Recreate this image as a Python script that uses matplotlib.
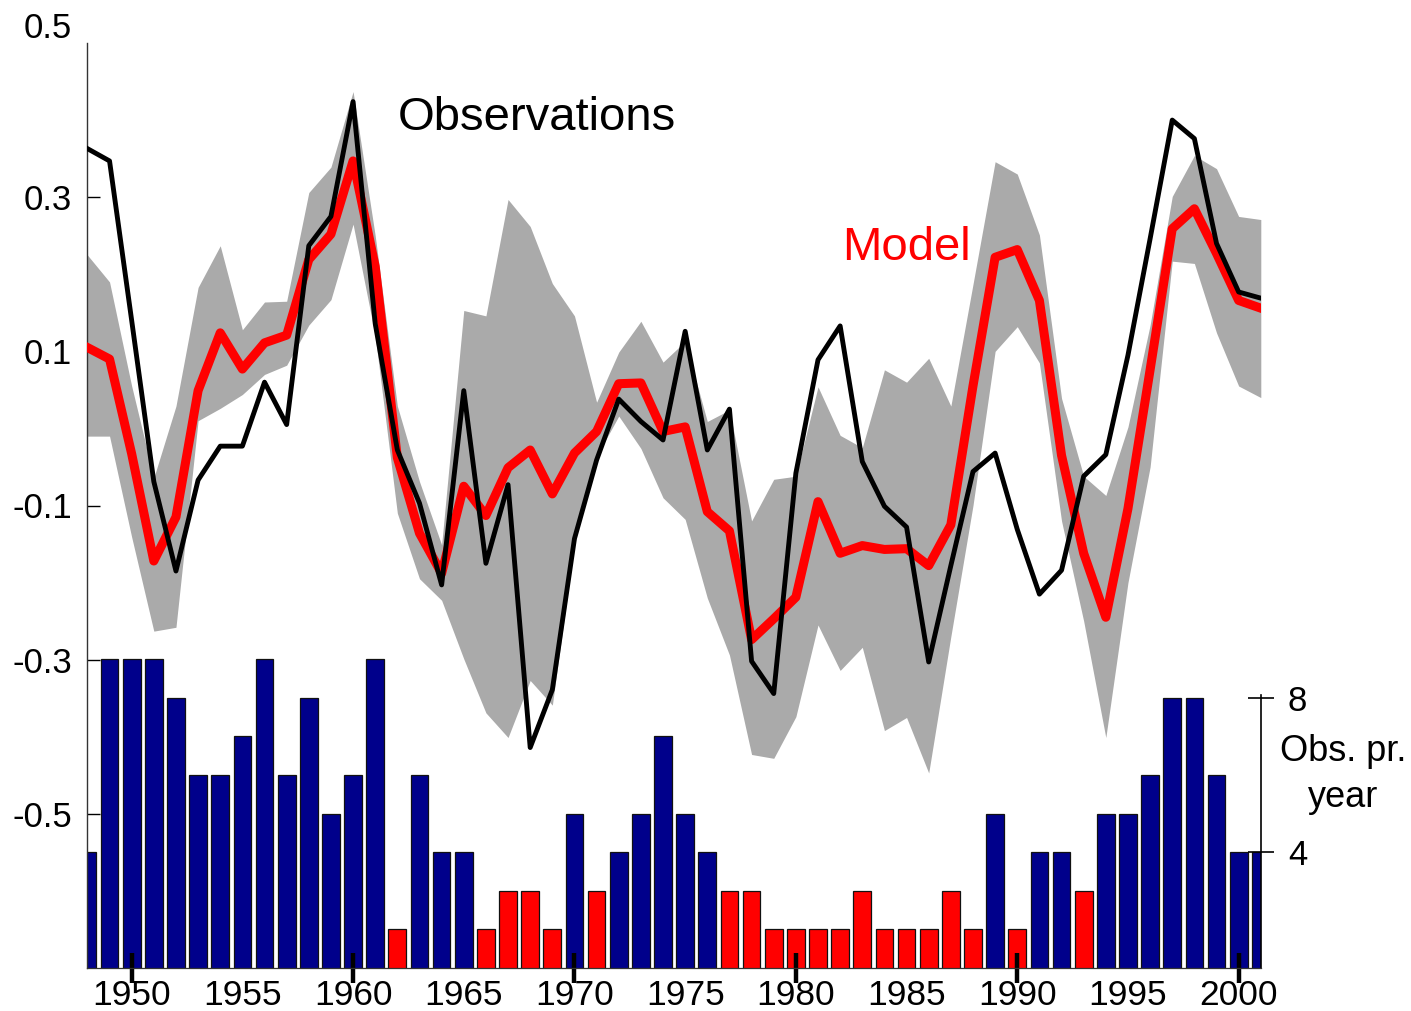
import numpy as np
import matplotlib
matplotlib.use("Agg")
import matplotlib.pyplot as plt
from matplotlib.ticker import FixedLocator

plt.rcParams['font.family'] = ['Liberation Sans', 'DejaVu Sans']

years = list(range(1948, 2002))

obs = [0.363, 0.347, 0.14, -0.069, -0.185, -0.067, -0.023, -0.023, 0.060, 0.005,
       0.237, 0.275, 0.424, 0.136, -0.028, -0.097, -0.203, 0.049, -0.175, -0.073,
       -0.414, -0.339, -0.143, -0.041, 0.038, 0.009, -0.015, 0.126, -0.028, 0.025,
       -0.302, -0.344, -0.058, 0.089, 0.133, -0.043, -0.101, -0.128, -0.303, -0.178,
       -0.056, -0.032, -0.131, -0.215, -0.184, -0.062, -0.034, 0.095, 0.246, 0.400,
       0.376, 0.240, 0.177, 0.169]

model = [0.105, 0.09, -0.033, -0.172, -0.115, 0.049, 0.124, 0.077, 0.111, 0.121,
         0.219, 0.252, 0.347, 0.21, -0.038, -0.136, -0.188, -0.075, -0.113, -0.051,
         -0.028, -0.085, -0.032, -0.004, 0.058, 0.059, -0.004, 0.002, -0.108, -0.133,
         -0.274, -0.247, -0.219, -0.095, -0.162, -0.152, -0.157, -0.156, -0.178, -0.125,
         0.055, 0.222, 0.232, 0.166, -0.035, -0.162, -0.245, -0.104, 0.076, 0.259,
         0.285, 0.227, 0.166, 0.156]

band_upper = [0.225, 0.19, 0.055, -0.064, 0.029, 0.183, 0.237, 0.128, 0.164, 0.165,
              0.306, 0.339, 0.437, 0.25, 0.029, -0.069, -0.151, 0.153, 0.146, 0.297,
              0.262, 0.188, 0.146, 0.034, 0.099, 0.139, 0.086, 0.113, 0.009, 0.024,
              -0.120, -0.066, -0.062, 0.054, -0.009, -0.025, 0.076, 0.060, 0.091, 0.029,
              0.187, 0.346, 0.330, 0.251, 0.039, -0.062, -0.087, 0.002, 0.134, 0.301,
              0.354, 0.337, 0.275, 0.271]

band_lower = [-0.01, -0.01, -0.141, -0.263, -0.258, 0.010, 0.026, 0.044, 0.070, 0.082,
              0.134, 0.167, 0.265, 0.12, -0.110, -0.195, -0.223, -0.299, -0.369, -0.401,
              -0.327, -0.359, -0.150, -0.036, 0.016, -0.026, -0.090, -0.118, -0.220, -0.294,
              -0.423, -0.428, -0.374, -0.255, -0.314, -0.284, -0.392, -0.375, -0.447, -0.27,
              -0.10, 0.100, 0.132, 0.085, -0.12, -0.25, -0.401, -0.20, -0.05, 0.217,
              0.214, 0.124, 0.055, 0.040]

obs_count = [4, 9, 9, 9, 8, 6, 6, 7, 9, 6, 8, 5, 6, 9,
             2, 6, 4, 4, 2, 3, 3, 2, 5, 3, 4, 5, 7, 5,
             4, 3, 3, 2, 2, 2, 2, 3, 2, 2, 2, 3, 2, 5,
             2, 4, 4, 3, 5, 5, 6, 8, 8, 6, 4, 4]

ytick_vals = [0.3, 0.1, -0.1, -0.3, -0.5]
ytick_labels = ['0.3', '0.1', '-0.1', '-0.3', '-0.5']
xtick_vals = list(range(1950, 2001, 5))
xmark_vals = list(range(1950, 2001, 10))
count_ticks = [4, 8]
threshold = 4

W, H = 1411, 1011
fig = plt.figure(figsize=(W / 100, H / 100), dpi=100)
ax = fig.add_axes([87.4 / W, 43 / H, (1260.8 - 87.4) / W, 925 / H])
ax2 = ax.twinx()
ax.set_zorder(2)
ax2.set_zorder(1)
ax.patch.set_visible(False)

# bars (observations per year)
colors = ['#00008B' if c >= threshold else '#FF0000' for c in obs_count]
ax2.bar(years, obs_count, width=0.8, color=colors, edgecolor='#111111', linewidth=0.9)
ax2.set_ylim(1, 24.95)
ax2.set_yticks(count_ticks)
ax2.set_yticklabels([str(t) for t in count_ticks])
ax2.tick_params(axis='y', direction='inout', length=19, width=1.2, pad=10,
                labelsize=25, right=True, left=False)
for s in ['top', 'left', 'bottom']:
    ax2.spines[s].set_visible(False)
ax2.spines['right'].set_bounds(1, 8.06)
ax2.spines['right'].set_linewidth(1.2)
ax2.annotate('Obs. pr.\nyear', xy=(1, 6.0), xycoords=('axes fraction', 'data'),
             xytext=(59, 0), textcoords='offset points', ha='center', va='center',
             fontsize=26, linespacing=1.4)

# band and lines
ax.set_axisbelow(True)
ax.fill_between(years, band_lower, band_upper, color='#AAAAAA', linewidth=0, zorder=1)
ax.plot(years, model, color='#FF0000', lw=6.5, solid_joinstyle='round', zorder=3)
ax.plot(years, obs, color='black', lw=3.5, solid_joinstyle='round', zorder=4)

ax.set_xlim(1948, 2001)
ax.set_ylim(-0.7, 0.5)

ax.set_yticks(ytick_vals)
ax.set_yticklabels(ytick_labels)
ax.tick_params(axis='y', direction='in', length=9, width=1, pad=11, labelsize=25)
ax.annotate('0.5', xy=(0, 1), xycoords='axes fraction', xytext=(-11, 13),
            textcoords='offset points', ha='right', va='center_baseline', fontsize=25)

ax.xaxis.remove_overlapping_locs = False
ax.set_xticks(xtick_vals)
ax.set_xticklabels([str(v) for v in xtick_vals])
ax.xaxis.set_minor_locator(FixedLocator(xmark_vals))
ax.tick_params(axis='x', which='major', length=0, pad=8, labelsize=25.5)
ax.tick_params(axis='x', which='minor', direction='inout', length=22, width=3.2, color='black')

for s in ['top', 'right']:
    ax.spines[s].set_visible(False)
ax.spines['left'].set_linewidth(1.0)
ax.spines['left'].set_color('#333333')
ax.spines['bottom'].set_linewidth(0.9)
ax.spines['bottom'].set_color('#333333')

ax.text(1962.0, 0.387, 'Observations', fontsize=34, ha='left', va='baseline', color='black')
ax.text(1982.1, 0.219, 'Model', fontsize=34, ha='left', va='baseline', color='#FF0000')

fig.savefig('out.png', dpi=100)
